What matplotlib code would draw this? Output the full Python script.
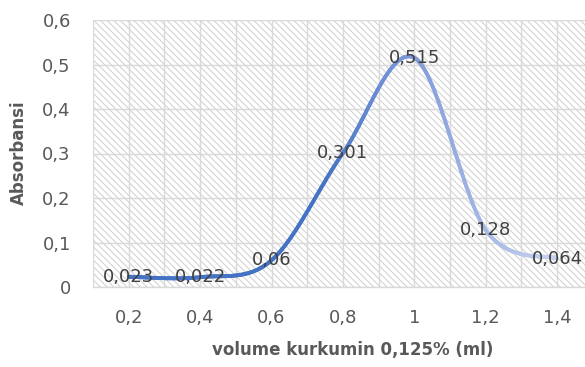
import numpy as np
import matplotlib
matplotlib.use("Agg")
import matplotlib.pyplot as plt
from matplotlib.collections import LineCollection
from matplotlib.colors import LinearSegmentedColormap
from matplotlib.patches import Rectangle

plt.rcParams['font.family'] = 'DejaVu Sans'
plt.rcParams['hatch.color'] = '#d4d4d4'
plt.rcParams['hatch.linewidth'] = 0.8

# data
volume = [0.2, 0.4, 0.6, 0.8, 1.0, 1.2, 1.4]
absorbansi = [0.023, 0.022, 0.06, 0.301, 0.515, 0.128, 0.064]
label_text = ['0,023', '0,022', '0,06', '0,301', '0,515', '0,128', '0,064']
xtick_vals = [0.2, 0.4, 0.6, 0.8, 1.0, 1.2, 1.4]
xtick_labels = ['0,2', '0,4', '0,6', '0,8', '1', '1,2', '1,4']
ytick_vals = [0, 0.1, 0.2, 0.3, 0.4, 0.5, 0.6]
ytick_labels = ['0', '0,1', '0,2', '0,3', '0,4', '0,5', '0,6']


def smooth(xs, ys, n=60):
    # excel style smoothing (bezier with catmull-rom control points)
    xs = np.asarray(xs, float)
    ys = np.asarray(ys, float)
    px = np.concatenate([[xs[0]], xs, [xs[-1]]])
    py = np.concatenate([[ys[0]], ys, [ys[-1]]])
    outx, outy = [], []
    t = np.linspace(0, 1, n)
    for i in range(1, len(px) - 2):
        p0 = np.array([px[i], py[i]])
        p3 = np.array([px[i + 1], py[i + 1]])
        c1 = p0 + (p3 - np.array([px[i - 1], py[i - 1]])) / 6
        c2 = p3 - (np.array([px[i + 2], py[i + 2]]) - p0) / 6
        b = ((1 - t) ** 3)[:, None] * p0 + (3 * (1 - t) ** 2 * t)[:, None] * c1 \
            + (3 * (1 - t) * t ** 2)[:, None] * c2 + (t ** 3)[:, None] * p3
        outx.extend(b[:, 0])
        outy.extend(b[:, 1])
    return np.array(outx), np.array(outy)


fig = plt.figure(figsize=(5.85, 3.67), dpi=100)
ax = fig.add_axes([93 / 585, 1 - 287 / 367, 1 - 93 / 585, (287 - 20) / 367])
ax.set_xlim(0.1, 1.478)
ax.set_ylim(0, 0.6)

# hatched plot area
ax.add_patch(Rectangle((0, 0), 1, 1, transform=ax.transAxes, facecolor='white',
                       edgecolor='#d4d4d4', lw=0, hatch='\\\\\\\\\\', zorder=0))

ax.set_xticks(xtick_vals)
ax.set_xticklabels(xtick_labels)
ax.set_xticks(np.arange(0.1, 1.5, 0.2), minor=True)
ax.set_yticks(ytick_vals)
ax.set_yticklabels(ytick_labels)
ax.grid(True, which='both', color='#d9d9d9', lw=1.0, zorder=1)
ax.set_axisbelow(True)
ax.tick_params(which='both', length=0, labelsize=13, colors='#595959')
ax.tick_params(axis='x', pad=16)
ax.tick_params(axis='y', pad=16)
for s in ['left', 'right', 'top']:
    ax.spines[s].set_visible(False)
ax.spines['bottom'].set_color('#d9d9d9')
ax.spines['bottom'].set_linewidth(1.0)

# gradient line
sx, sy = smooth(volume, absorbansi)
pts = np.column_stack([sx, sy]).reshape(-1, 1, 2)
segs = np.concatenate([pts[:-1], pts[1:]], axis=1)
cmap = LinearSegmentedColormap.from_list('grad', [
    (0.0, '#4472C4'), (0.45, '#4472C4'), (0.6, '#6F8FD6'),
    (0.72, '#8DA4DE'), (0.85, '#A9BBE6'), (1.0, '#C6D3EF')])
lc = LineCollection(segs, cmap=cmap, linewidths=2.8, capstyle='round', zorder=3)
lc.set_array((sx[:-1] - 0.2) / 1.2)
lc.set_clim(0, 1)
ax.add_collection(lc)

for x, y, t in zip(volume, absorbansi, label_text):
    ax.text(x, y, t, ha='center', va='center', fontsize=13, color='#404040', zorder=4)

fig.text(353 / 585, 1 - 350 / 367, 'volume kurkumin 0,125% (ml)', ha='center', va='center',
         fontsize=12, fontweight='bold', color='#595959')
fig.text(19 / 585, 1 - 153 / 367, 'Absorbansi', ha='center', va='center', rotation=90,
         fontsize=12, fontweight='bold', color='#595959')

fig.savefig('out.png', dpi=100)
